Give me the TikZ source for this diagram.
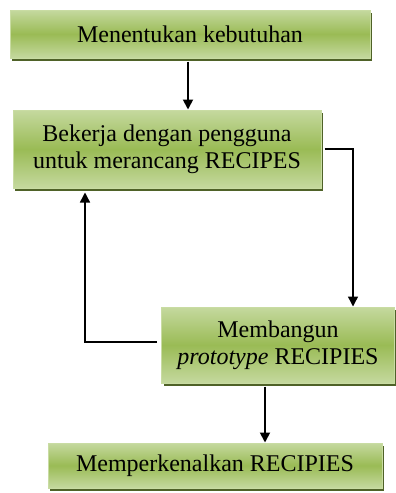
\documentclass[tikz,border=0pt]{standalone}
\usepackage{fontspec}
\setmainfont{Liberation Serif}
\usetikzlibrary{shadows,arrows.meta}
\definecolor{gtop}{HTML}{C5D99F}
\definecolor{gmid}{HTML}{9ABB55}
\definecolor{gedge}{HTML}{C9DCA3}
\definecolor{gshadow}{HTML}{4F6228}
\begin{document}
\begin{tikzpicture}[x=1pt,y=-1pt,
  stepbox/.style={draw=gedge, line width=1pt, top color=gtop, bottom color=gtop, middle color=gmid,
    general shadow={fill=gshadow, shadow xshift=2pt, shadow yshift=-3pt},
    inner sep=0pt, align=center, font=\fontsize{24}{27}\selectfont},
  arr/.style={line width=1.8pt, -{Triangle[width=10pt,length=10pt]}},
  conn/.style={line width=1.4pt, -{Triangle[width=10pt,length=10pt]}}]
\useasboundingbox (0,0) rectangle (396,493);
\node[stepbox, minimum width=360pt, minimum height=48pt] (b1) at (190,34) {Menentukan kebutuhan};
\node[stepbox, minimum width=308pt, minimum height=78pt] (b2) at (167,149) {Bekerja dengan pengguna\\untuk merancang RECIPES};
\node[stepbox, minimum width=233pt, minimum height=76pt] (b3) at (278,345) {Membangun\\\textit{prototype} RECIPIES};
\node[stepbox, minimum width=334pt, minimum height=45pt] (b4) at (215,465.5) {Memperkenalkan RECIPIES};
\draw[arr] ([xshift=-2pt,yshift=-3pt]b1.south) -- ([xshift=-2pt]b1.south |- b2.north);
\draw[conn] ([xshift=3pt]b2.east) -| ([xshift=75pt]b3.north);
\draw[conn] ([xshift=-4pt,yshift=3pt]b3.west) -| ([xshift=-82pt,yshift=-4pt]b2.south);
\draw[arr] ([xshift=-13pt,yshift=-3pt]b3.south) -- ([xshift=-13pt]b3.south |- b4.north);
\end{tikzpicture}
\end{document}
